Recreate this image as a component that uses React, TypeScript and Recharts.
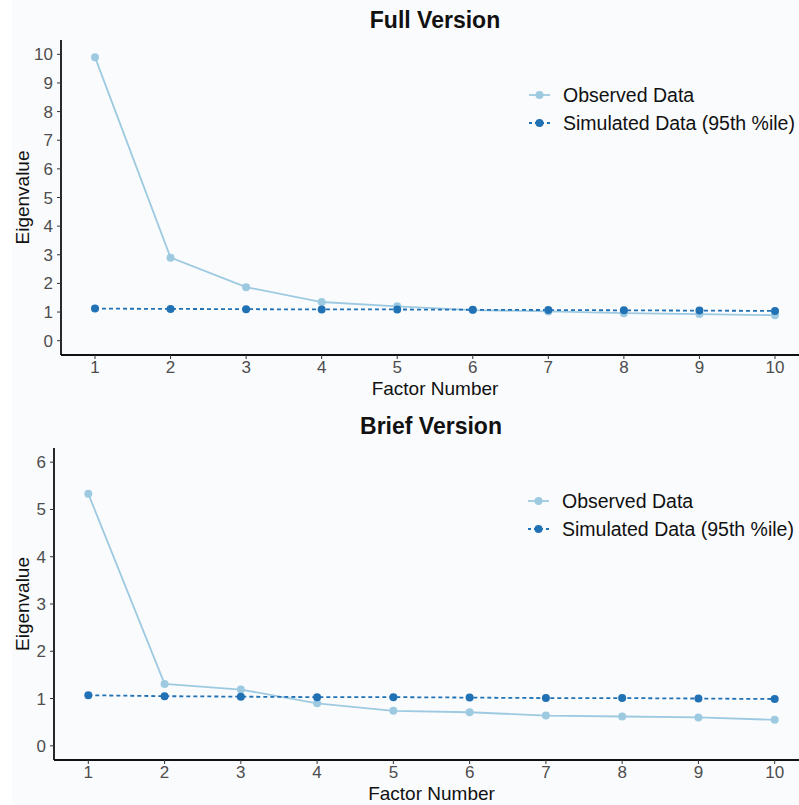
import React from "react";
import { LineChart, Line, XAxis, YAxis } from "recharts";

const factors = [1, 2, 3, 4, 5, 6, 7, 8, 9, 10];

const fullObserved = [9.9, 2.9, 1.87, 1.35, 1.2, 1.07, 1.02, 0.96, 0.93, 0.89];
const fullSimulated = [1.12, 1.11, 1.1, 1.09, 1.09, 1.08, 1.07, 1.06, 1.05, 1.04];
const fullTicks = [0, 1, 2, 3, 4, 5, 6, 7, 8, 9, 10];

const briefObserved = [5.33, 1.31, 1.19, 0.9, 0.74, 0.71, 0.64, 0.62, 0.6, 0.55];
const briefSimulated = [1.07, 1.05, 1.04, 1.03, 1.03, 1.02, 1.01, 1.01, 1.0, 0.99];
const briefTicks = [0, 1, 2, 3, 4, 5, 6];

const legendLabels = ["Observed Data", "Simulated Data (95th %ile)"];

const OBS = "#9ECAE1";
const SIM = "#2171B5";
const FONT = "'Liberation Sans', Arial, Helvetica, sans-serif";

const buildRows = (obs: number[], sim: number[]) =>
  factors.map((f, i) => ({ factor: f, observed: obs[i], simulated: sim[i] }));

// legend drawn by hand, a Recharts Legend would eat into the plot area
function LegendBox({ left, top }: { left: number; top: number }) {
  const styles = [
    { color: OBS, dash: undefined },
    { color: SIM, dash: "3 3" },
  ];
  return (
    <div style={{ position: "absolute", left, top, fontFamily: FONT }}>
      {legendLabels.map((label, i) => (
        <div key={label} style={{ display: "flex", alignItems: "center", height: 28 }}>
          <svg width={36} height={14}>
            <line x1={2} y1={7} x2={23} y2={7} stroke={styles[i].color} strokeWidth={1.8} strokeDasharray={styles[i].dash} />
            <circle cx={12.5} cy={7} r={4} fill={styles[i].color} />
          </svg>
          <span style={{ fontSize: 19.5, color: "#111", whiteSpace: "nowrap" }}>{label}</span>
        </div>
      ))}
    </div>
  );
}

function Panel({
  obs,
  sim,
  yTicks,
  yMax,
  leftW,
  top,
  height,
}: {
  obs: number[];
  sim: number[];
  yTicks: number[];
  yMax: number;
  leftW: number;
  top: number;
  height: number;
}) {
  const pad = yMax * 0.05;
  return (
    <LineChart
      width={810}
      height={height}
      data={buildRows(obs, sim)}
      margin={{ top, right: 1, bottom: 0, left: 0 }}
      style={{ fontFamily: FONT }}
    >
      <XAxis
        type="number"
        dataKey="factor"
        domain={[0.55, 10.45]}
        ticks={factors}
        allowDataOverflow
        height={45}
        tickSize={4}
        tickMargin={2}
        stroke="#111"
        strokeWidth={1.8}
        tickLine={{ stroke: "#333", strokeWidth: 1 }}
        tick={{ fill: "#4d4d4d", fontSize: 17 }}
        label={(p: any) => (
          <text
            x={p.viewBox.x + p.viewBox.width / 2}
            y={p.viewBox.y + 40}
            textAnchor="middle"
            fontSize={19}
            fill="#111"
          >
            Factor Number
          </text>
        )}
      />
      <YAxis
        type="number"
        domain={[-pad, yMax + pad]}
        ticks={yTicks}
        allowDataOverflow
        width={leftW}
        tickSize={4}
        tickMargin={4}
        stroke="#111"
        strokeWidth={1.8}
        tickLine={{ stroke: "#333", strokeWidth: 1 }}
        tick={{ fill: "#4d4d4d", fontSize: 17 }}
        label={(p: any) => {
          const cy = p.viewBox.y + p.viewBox.height / 2;
          return (
            <text
              x={22}
              y={cy}
              transform={`rotate(-90, 22, ${cy})`}
              textAnchor="middle"
              dominantBaseline="central"
              fontSize={19}
              fill="#111"
            >
              Eigenvalue
            </text>
          );
        }}
      />
      <Line
        type="linear"
        dataKey="observed"
        stroke={OBS}
        strokeWidth={1.8}
        dot={{ r: 4, fill: OBS, stroke: OBS, strokeWidth: 0 }}
        isAnimationActive={false}
      />
      <Line
        type="linear"
        dataKey="simulated"
        stroke={SIM}
        strokeWidth={1.8}
        strokeDasharray="4 3"
        dot={{ r: 4, fill: SIM, stroke: SIM, strokeWidth: 0, strokeDasharray: "" }}
        isAnimationActive={false}
      />
    </LineChart>
  );
}

export default function App() {
  const titleStyle: React.CSSProperties = {
    position: "absolute",
    fontFamily: FONT,
    fontWeight: "bold",
    fontSize: 23,
    color: "#111",
    transform: "translate(-50%, -50%)",
    whiteSpace: "nowrap",
  };
  return (
    <div
      style={{
        position: "absolute",
        left: 0,
        top: 0,
        width: 799,
        height: 805,
        overflow: "hidden",
        background: "linear-gradient(to right, #ffffff 12px, #fafbfd 12px)",
      }}
    >
      <div style={{ position: "absolute", left: 0, top: 0 }}>
        <Panel obs={fullObserved} sim={fullSimulated} yTicks={fullTicks} yMax={10} leftW={61} top={40} height={400} />
      </div>
      <div style={{ position: "absolute", left: 0, top: 400 }}>
        <Panel obs={briefObserved} sim={briefSimulated} yTicks={briefTicks} yMax={6} leftW={54} top={48} height={405} />
      </div>
      <LegendBox left={527} top={81} />
      <LegendBox left={526} top={487} />
      <div style={{ ...titleStyle, left: 435, top: 20 }}>Full Version</div>
      <div style={{ ...titleStyle, left: 431, top: 426 }}>Brief Version</div>
    </div>
  );
}
